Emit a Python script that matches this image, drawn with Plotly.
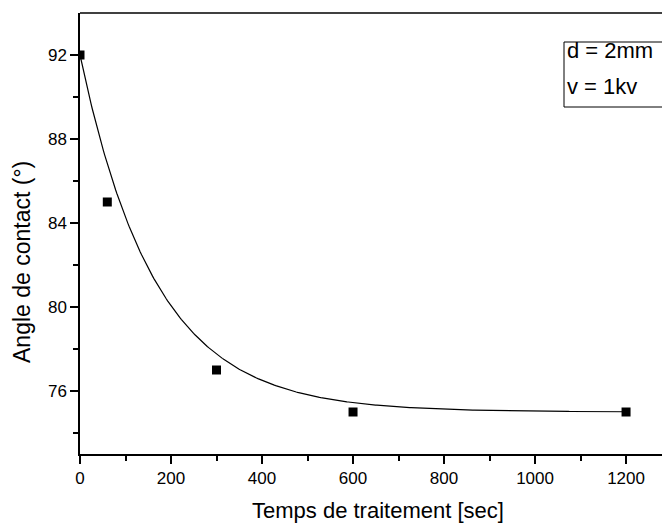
import numpy as np
import plotly.graph_objects as go

# Measured data
temps = [0, 60, 300, 600, 1200]          # sec
angle = [92, 85, 77, 75, 75]             # degrees

# Exponential-decay fit parameters
fit_y0 = 75.0
fit_A = 17.0
fit_tau = 165.0

x_ticks = [0, 200, 400, 600, 800, 1000, 1200]
y_ticks = [76, 80, 84, 88, 92]

t_fit = np.linspace(0, 1200, 400)
y_fit = fit_y0 + fit_A * np.exp(-t_fit / fit_tau)

FONT = "Arial, Liberation Sans, Helvetica, sans-serif"
W, H = 662, 525
L, R, T, B = 80, 0, 13, 71
pw = W - L - R
ph = H - T - B

fig = go.Figure()
fig.add_trace(go.Scatter(x=t_fit, y=y_fit, mode="lines",
                         line=dict(color="black", width=1.2), showlegend=False,
                         hoverinfo="skip"))
fig.add_trace(go.Scatter(x=temps, y=angle, mode="markers",
                         marker=dict(symbol="square", size=9, color="black"),
                         showlegend=False))

def py(pix):
    return (H - B - pix) / ph

def px(pix):
    return (pix - L) / pw

# top frame line
fig.add_shape(type="line", xref="paper", yref="paper", x0=0, x1=1, y0=1, y1=1,
              line=dict(color="black", width=1.5))
# parameter box
bx0 = px(564)
fig.add_shape(type="rect", xref="paper", yref="paper", x0=bx0, x1=1.2,
              y0=py(107), y1=py(42), line=dict(color="black", width=1),
              fillcolor="rgba(0,0,0,0)")
fig.add_annotation(xref="paper", yref="paper", x=bx0 + 0.002, y=py(51),
                   text="d = 2mm", showarrow=False, xanchor="left", yanchor="middle",
                   font=dict(family=FONT, size=22, color="black"))
fig.add_annotation(xref="paper", yref="paper", x=bx0 + 0.002, y=py(86),
                   text="v = 1kv", showarrow=False, xanchor="left", yanchor="middle",
                   font=dict(family=FONT, size=22, color="black"))

# axis titles
fig.add_annotation(xref="paper", yref="paper", x=px(378), y=py(511),
                   text="Temps de traitement [sec]", showarrow=False,
                   xanchor="center", yanchor="middle",
                   font=dict(family=FONT, size=22, color="black"))
fig.add_annotation(xref="paper", yref="paper", x=px(22), y=py(262),
                   text="Angle de contact (°)", showarrow=False, textangle=-90,
                   xanchor="center", yanchor="middle",
                   font=dict(family=FONT, size=23, color="black"))

fig.update_xaxes(range=[0, 1279], tickvals=x_ticks, ticktext=[str(v) for v in x_ticks],
                 showgrid=False, zeroline=False, showline=True, linecolor="black",
                 linewidth=1.5, ticks="outside", ticklen=8, tickwidth=1.5, tickcolor="black",
                 minor=dict(tickvals=[100, 300, 500, 700, 900, 1100], ticks="outside",
                            ticklen=5, tickwidth=1.5, tickcolor="black"),
                 tickfont=dict(family=FONT, size=17, color="black"))
fig.update_yaxes(range=[73, 94], tickvals=y_ticks, ticktext=[str(v) for v in y_ticks],
                 showgrid=False, zeroline=False, showline=True, linecolor="black",
                 linewidth=1.5, ticks="outside", ticklen=8, tickwidth=1.5, tickcolor="black",
                 minor=dict(tickvals=[74, 78, 82, 86, 90], ticks="outside",
                            ticklen=5, tickwidth=1.5, tickcolor="black"),
                 tickfont=dict(family=FONT, size=17, color="black"))

fig.update_layout(width=W, height=H, margin=dict(l=L, r=R, t=T, b=B),
                  plot_bgcolor="white", paper_bgcolor="white")

fig.write_html("out.html", config={"displayModeBar": False},
               post_script="document.body.style.margin='0';document.body.style.overflow='hidden';")
